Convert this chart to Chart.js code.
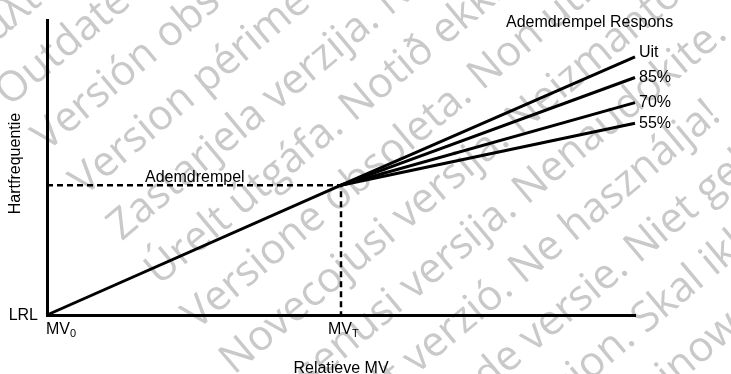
<!DOCTYPE html>
<html>
<head>
<meta charset="utf-8">
<script src="https://cdn.jsdelivr.net/npm/chart.js@4/dist/chart.umd.min.js"></script>
<style>
html, body { margin: 0; padding: 0; background: #fff; }
#wrap { width: 731px; height: 374px; }
</style>
</head>
<body>
<div id="wrap"><canvas id="chart"></canvas></div>
<script>
// relative minute ventilation: MV0 at 0, MVT at 50, end of the axis at 100
const mvZero = 0;
const mvThreshold = 50;
const mvEnd = 100;
// heart rate (0 = LRL, 100 = top of the axis)
const hrThreshold = 44;
const responseNames = ['Uit', '85%', '70%', '55%'];
const responseEnd = [87.5, 80.5, 72, 65];
const xTickLabels = [['MV', '0'], ['MV', 'T']];
const yTickLabel = 'LRL';
const xTitle = 'Relatieve MV';
const yTitle = 'Hartfrequentie';
const thresholdLabel = 'Ademdrempel';
const responseTitle = 'Ademdrempel Respons';

// watermark rows (one language each), drawn diagonally behind the chart
const watermarkRows = [
    'Παλιά έκδοση. Μην τη χρησιμοποιείτε.',
    'Outdated version. Do not use.',
    'Versión obsoleta. No utilizar.',
    'Version périmée. Ne pas utiliser.',
    'Zastarjela verzija. Nemojte upotrebljavati.',
    'Úrelt útgáfa. Notið ekki.',
    'Versione obsoleta. Non utilizzare.',
    'Novecojusi versija. Neizmantot.',
    'Pasenusi versija. Nenaudokite.',
    'Elavult verzió. Ne használja!',
    'Verouderde versie. Niet gebruiken.',
    'Utdatert versjon. Skal ikke brukes.',
    'Wersja przeterminowana. Nie używać.'
];

const FONT = '"Liberation Sans", Arial, sans-serif';

const datasets = [];
// rising heart rate up to the breathing threshold
datasets.push({
    data: [{x: mvZero, y: 0}, {x: mvThreshold, y: hrThreshold}],
    borderColor: '#000', borderWidth: 3
});
// response curves above the threshold
for (let i = 0; i < responseNames.length; i++) {
    datasets.push({
        label: responseNames[i],
        data: [{x: mvThreshold, y: hrThreshold}, {x: mvEnd, y: responseEnd[i]}],
        borderColor: '#000', borderWidth: 3
    });
}
// dashed guide to the threshold
datasets.push({
    data: [{x: mvZero, y: hrThreshold}, {x: mvThreshold, y: hrThreshold}, {x: mvThreshold, y: 0}],
    borderColor: '#000', borderWidth: 2.5, borderDash: [6, 4]
});

const watermark = {
    id: 'watermark',
    beforeDraw(chart) {
        const ctx = chart.ctx;
        ctx.save();
        ctx.fillStyle = '#fff';
        ctx.fillRect(0, 0, chart.width, chart.height);
        ctx.fillStyle = '#c9c9c9';
        ctx.font = '42px "Open Sans", sans-serif';
        ctx.textBaseline = 'alphabetic';
        ctx.rotate(-40 * Math.PI / 180);
        watermarkRows.forEach((row, i) => {
            ctx.fillText(row, -62, 30 + 58.3 * i);
        });
        ctx.restore();
    }
};

const labels = {
    id: 'labels',
    afterDraw(chart) {
        const ctx = chart.ctx;
        const x = chart.scales.x;
        const y = chart.scales.y;
        const x0 = x.getPixelForValue(mvZero);
        const xT = x.getPixelForValue(mvThreshold);
        const xE = x.getPixelForValue(mvEnd);
        const y0 = y.getPixelForValue(0);
        const yT = y.getPixelForValue(hrThreshold);
        ctx.save();
        ctx.fillStyle = '#000';
        ctx.font = '16px ' + FONT;

        ctx.textAlign = 'right';
        ctx.textBaseline = 'middle';
        ctx.fillText(yTickLabel, x0 - 9, y0 + 1);

        // MV0 and MVT with subscripts
        const subLabel = (pair, left) => {
            ctx.textAlign = 'left';
            ctx.textBaseline = 'alphabetic';
            ctx.font = '16px ' + FONT;
            ctx.fillText(pair[0], left, y0 + 19);
            const w = ctx.measureText(pair[0]).width;
            ctx.font = '11px ' + FONT;
            ctx.fillText(pair[1], left + w, y0 + 22);
        };
        subLabel(xTickLabels[0], x0 - 1);
        subLabel(xTickLabels[1], xT - 13);

        ctx.font = '16px ' + FONT;
        ctx.textAlign = 'center';
        ctx.textBaseline = 'alphabetic';
        ctx.fillText(xTitle, (x0 + xE) / 2, chart.height - 1);

        ctx.save();
        ctx.translate(20, (chart.chartArea.top + y0) / 2 - 4);
        ctx.rotate(-Math.PI / 2);
        ctx.fillText(yTitle, 0, 0);
        ctx.restore();

        ctx.textAlign = 'left';
        ctx.fillText(thresholdLabel, x0 + 98, yT - 3.5);
        ctx.fillText(responseTitle, 506, chart.chartArea.top + 7);

        ctx.textBaseline = 'middle';
        responseNames.forEach((name, i) => {
            const nudge = i === 0 ? -4 : 0;
            ctx.fillText(name, xE + 4, y.getPixelForValue(responseEnd[i]) + nudge);
        });
        ctx.restore();
    }
};

const axisOpts = {
    type: 'linear',
    min: 0,
    max: 100,
    grid: {display: false, drawTicks: false},
    ticks: {display: false},
    border: {display: true, color: '#000', width: 3}
};

const chart = new Chart(document.getElementById('chart'), {
    type: 'scatter',
    data: {datasets: datasets},
    options: {
        responsive: true,
        maintainAspectRatio: false,
        animation: false,
        layout: {padding: {left: 47, right: 96, top: 20, bottom: 59}},
        elements: {
            point: {radius: 0, hoverRadius: 0},
            line: {tension: 0, borderCapStyle: 'butt'}
        },
        datasets: {scatter: {showLine: true, clip: false}},
        scales: {x: axisOpts, y: axisOpts},
        plugins: {
            legend: {display: false},
            tooltip: {enabled: false}
        }
    },
    plugins: [watermark, labels]
});
</script>
</body>
</html>
